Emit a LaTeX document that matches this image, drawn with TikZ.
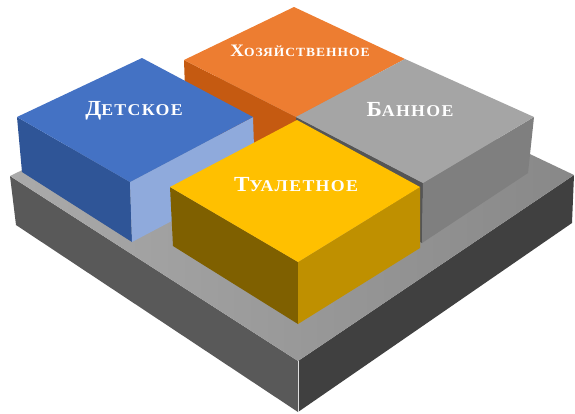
\documentclass[tikz,border=0pt]{standalone}
\usepackage{fontspec}
\setmainfont{Liberation Serif}
\newfontfamily\lblfont[LetterSpace=8,FakeStretch=1.08]{Liberation Serif}
\newcommand\fakesc[4]{{\fontsize{#3}{#3}\selectfont #1}{\fontsize{#4}{#4}\selectfont #2}}
\definecolor{bluetop}{HTML}{4472C4}
\definecolor{blueleft}{HTML}{2F5597}
\definecolor{blueright}{HTML}{8FAADC}
\definecolor{orangetop}{HTML}{ED7D31}
\definecolor{orangeleft}{HTML}{C55A11}
\definecolor{graytop}{HTML}{A5A5A5}
\definecolor{grayright}{HTML}{7F7F7F}
\definecolor{grayleft}{HTML}{555555}
\definecolor{yellowtop}{HTML}{FFC000}
\definecolor{yellowleft}{HTML}{7F6000}
\definecolor{yellowright}{HTML}{BF9000}
\definecolor{baseleft}{HTML}{595959}
\definecolor{baseright}{HTML}{404040}
\definecolor{basetopA}{HTML}{AAAAAA}
\definecolor{basetopB}{HTML}{888888}
\begin{document}
\begin{tikzpicture}[x=1pt,y=-1pt,
  lbl/.style={text=white, font=\lblfont\bfseries, inner sep=0pt}]
\useasboundingbox (0,0) rectangle (575,413);
% platform
\fill[baseleft] (10,176) -- (298,361) -- (298,412) -- (16,225) -- cycle;
\fill[baseright] (298,361) -- (574,175) -- (572,223) -- (298,412) -- cycle;
\shade[left color=basetopA, right color=basetopB] (10,176) -- (298,361) -- (574,175) -- (290,40) -- cycle;
\draw[white!75!gray, line width=0.6pt] (298,361) -- (298,412);
% orange box
\fill[orangeleft] (184,60) -- (296,117) -- (296,177) -- (186,120) -- cycle;
\fill[orangetop] (294,7) -- (405,59) -- (296,117) -- (184,60) -- cycle;
% blue box
\fill[blueleft] (17,117) -- (130,182) -- (132,242) -- (22,172) -- cycle;
\fill[blueright] (130,182) -- (253,117) -- (255,177) -- (132,242) -- cycle;
\fill[bluetop] (142,58) -- (253,117) -- (130,182) -- (17,117) -- cycle;
% gray box
\fill[grayleft] (296,117) -- (423,183) -- (422,243) -- (298,177) -- cycle;
\fill[grayright] (534,117) -- (423,183) -- (422,243) -- (528,173) -- cycle;
\fill[graytop] (405,59) -- (534,117) -- (423,183) -- (296,117) -- cycle;
% yellow box
\fill[yellowleft] (170,187) -- (298,262) -- (298,324) -- (173,246) -- cycle;
\fill[yellowright] (298,262) -- (420,187) -- (420,248) -- (298,324) -- cycle;
\fill[yellowtop] (297,120) -- (420,187) -- (298,262) -- (170,187) -- cycle;
% labels
\node[lbl] (hoz) at (300,51) {\fakesc{Х}{ОЗЯЙСТВЕННОЕ}{17.5}{12.5}};
\node[lbl] (det) at (134,111) {\fakesc{Д}{ЕТСКОЕ}{21.5}{16.5}};
\node[lbl] (ban) at (410,110) {\fakesc{Б}{АННОЕ}{21.5}{16.5}};
\node[lbl] (tua) at (296,185) {\fakesc{Т}{УАЛЕТНОЕ}{21.5}{16.5}};
\end{tikzpicture}
\end{document}
